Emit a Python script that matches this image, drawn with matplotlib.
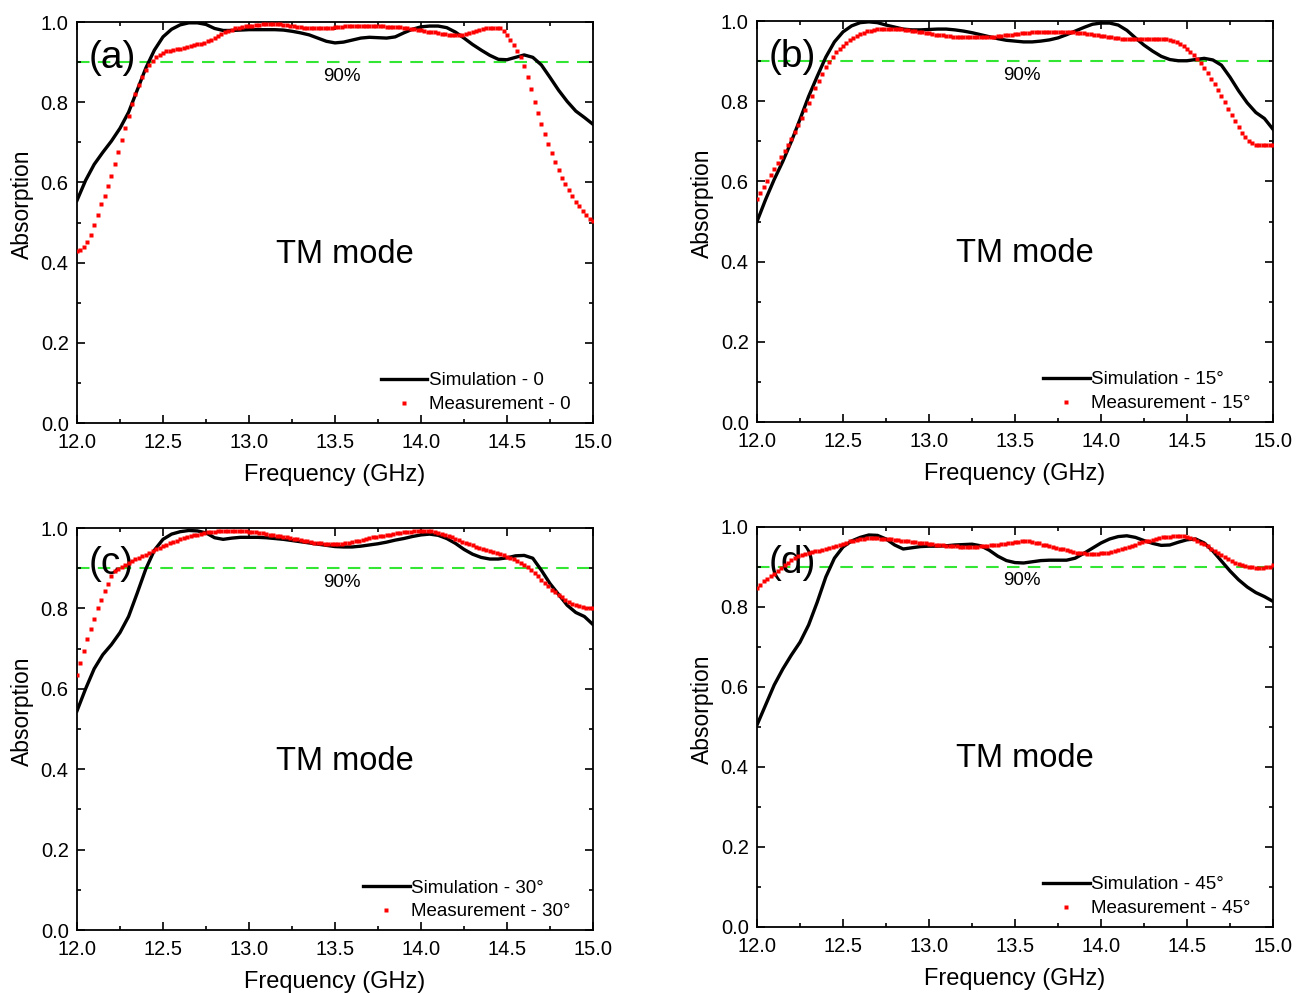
import numpy as np
import matplotlib.pyplot as plt
from matplotlib.ticker import MultipleLocator

plt.rcParams['font.family'] = ['Liberation Sans', 'DejaVu Sans']

# simulated absorption, 12.0-15.0 GHz in 0.05 GHz steps
sim_0 = [0.555, 0.605, 0.645, 0.675, 0.703, 0.735, 0.775, 0.830, 0.885, 0.930,
         0.963, 0.982, 0.993, 0.998, 0.998, 0.994, 0.984, 0.979, 0.979, 0.980,
         0.981, 0.981, 0.981, 0.981, 0.980, 0.977, 0.973, 0.968, 0.960, 0.952,
         0.948, 0.950, 0.955, 0.960, 0.962, 0.961, 0.960, 0.963, 0.973, 0.982,
         0.988, 0.990, 0.990, 0.986, 0.975, 0.960, 0.944, 0.930, 0.917, 0.907,
         0.906, 0.912, 0.918, 0.912, 0.893, 0.862, 0.830, 0.802, 0.778, 0.762,
         0.745]
sim_15 = [0.500, 0.555, 0.605, 0.650, 0.700, 0.755, 0.812, 0.862, 0.910, 0.948,
          0.973, 0.988, 0.996, 0.998, 0.996, 0.990, 0.985, 0.980, 0.978, 0.978,
          0.979, 0.980, 0.980, 0.978, 0.975, 0.971, 0.966, 0.961, 0.956, 0.952,
          0.950, 0.948, 0.948, 0.950, 0.953, 0.958, 0.966, 0.975, 0.984, 0.992,
          0.995, 0.995, 0.990, 0.977, 0.958, 0.940, 0.925, 0.912, 0.904, 0.901,
          0.901, 0.904, 0.907, 0.903, 0.890, 0.860, 0.826, 0.796, 0.772, 0.757,
          0.730]
sim_30 = [0.545, 0.600, 0.650, 0.685, 0.710, 0.740, 0.780, 0.838, 0.898, 0.945,
          0.972, 0.985, 0.991, 0.994, 0.993, 0.988, 0.976, 0.972, 0.975, 0.977,
          0.977, 0.977, 0.976, 0.974, 0.972, 0.969, 0.966, 0.963, 0.960, 0.957,
          0.954, 0.953, 0.953, 0.955, 0.958, 0.961, 0.965, 0.970, 0.974, 0.979,
          0.983, 0.985, 0.982, 0.974, 0.962, 0.947, 0.935, 0.927, 0.923, 0.923,
          0.926, 0.931, 0.932, 0.925, 0.895, 0.862, 0.835, 0.808, 0.790, 0.780,
          0.760]
sim_45 = [0.505, 0.555, 0.605, 0.645, 0.680, 0.712, 0.755, 0.812, 0.875, 0.922,
          0.950, 0.965, 0.974, 0.980, 0.979, 0.970, 0.955, 0.945, 0.948, 0.951,
          0.952, 0.952, 0.953, 0.955, 0.956, 0.957, 0.953, 0.942, 0.927, 0.916,
          0.911, 0.910, 0.913, 0.916, 0.917, 0.917, 0.917, 0.922, 0.934, 0.947,
          0.960, 0.970, 0.976, 0.978, 0.974, 0.966, 0.959, 0.954, 0.955, 0.962,
          0.968, 0.970, 0.960, 0.940, 0.915, 0.890, 0.868, 0.850, 0.836, 0.826,
          0.814]

# measured absorption, 12.0-15.0 GHz in 0.02 GHz steps
meas_0 = [0.430, 0.432, 0.440, 0.452, 0.470, 0.495, 0.520, 0.545, 0.565, 0.590,
          0.615, 0.645, 0.675, 0.705, 0.735, 0.765, 0.795, 0.820, 0.843, 0.864,
          0.880, 0.893, 0.903, 0.912, 0.919, 0.924, 0.927, 0.929, 0.931, 0.933,
          0.934, 0.936, 0.938, 0.940, 0.942, 0.944, 0.946, 0.948, 0.952, 0.956,
          0.961, 0.966, 0.970, 0.974, 0.978, 0.981, 0.984, 0.986, 0.988, 0.989,
          0.990, 0.991, 0.992, 0.993, 0.994, 0.994, 0.995, 0.995, 0.995, 0.994,
          0.993, 0.992, 0.990, 0.989, 0.988, 0.987, 0.986, 0.985, 0.985, 0.985,
          0.985, 0.985, 0.985, 0.986, 0.986, 0.987, 0.988, 0.988, 0.989, 0.990,
          0.990, 0.991, 0.991, 0.991, 0.991, 0.991, 0.990, 0.990, 0.989, 0.989,
          0.988, 0.988, 0.988, 0.988, 0.987, 0.986, 0.985, 0.983, 0.982, 0.980,
          0.979, 0.978, 0.976, 0.975, 0.974, 0.972, 0.971, 0.969, 0.968, 0.967,
          0.967, 0.967, 0.968, 0.970, 0.972, 0.974, 0.977, 0.980, 0.982, 0.984,
          0.985, 0.986, 0.986, 0.984, 0.978, 0.968, 0.955, 0.942, 0.928, 0.912,
          0.890, 0.864, 0.833, 0.800, 0.772, 0.745, 0.720, 0.696, 0.673, 0.650,
          0.630, 0.612, 0.596, 0.581, 0.566, 0.552, 0.540, 0.529, 0.519, 0.510,
          0.503]
meas_15 = [0.557, 0.572, 0.587, 0.602, 0.617, 0.632, 0.646, 0.660, 0.675, 0.691,
           0.707, 0.724, 0.741, 0.759, 0.777, 0.795, 0.813, 0.832, 0.850, 0.868,
           0.885, 0.899, 0.911, 0.922, 0.931, 0.939, 0.946, 0.952, 0.958, 0.963,
           0.967, 0.971, 0.974, 0.976, 0.978, 0.979, 0.980, 0.980, 0.980, 0.980,
           0.980, 0.979, 0.979, 0.978, 0.977, 0.976, 0.975, 0.973, 0.972, 0.970,
           0.969, 0.967, 0.966, 0.965, 0.964, 0.963, 0.962, 0.961, 0.960, 0.960,
           0.960, 0.959, 0.959, 0.959, 0.959, 0.960, 0.960, 0.960, 0.961, 0.961,
           0.962, 0.963, 0.964, 0.965, 0.966, 0.967, 0.968, 0.969, 0.970, 0.971,
           0.972, 0.972, 0.973, 0.973, 0.973, 0.973, 0.973, 0.973, 0.973, 0.973,
           0.973, 0.973, 0.972, 0.971, 0.970, 0.969, 0.968, 0.967, 0.966, 0.965,
           0.963, 0.962, 0.961, 0.960, 0.958, 0.957, 0.956, 0.955, 0.955, 0.954,
           0.954, 0.954, 0.954, 0.955, 0.955, 0.956, 0.956, 0.956, 0.955, 0.954,
           0.952, 0.950, 0.947, 0.943, 0.937, 0.930, 0.923, 0.915, 0.906, 0.896,
           0.884, 0.870, 0.856, 0.842, 0.828, 0.813, 0.797, 0.781, 0.765, 0.750,
           0.736, 0.722, 0.710, 0.701, 0.695, 0.692, 0.690, 0.690, 0.690, 0.690,
           0.690]
meas_30 = [0.635, 0.665, 0.695, 0.725, 0.750, 0.775, 0.800, 0.822, 0.843, 0.862,
           0.880, 0.893, 0.899, 0.904, 0.909, 0.913, 0.918, 0.922, 0.926, 0.930,
           0.934, 0.939, 0.943, 0.947, 0.951, 0.955, 0.959, 0.962, 0.966, 0.969,
           0.972, 0.975, 0.978, 0.980, 0.982, 0.984, 0.986, 0.988, 0.989, 0.990,
           0.991, 0.992, 0.993, 0.993, 0.993, 0.993, 0.993, 0.993, 0.993, 0.992,
           0.991, 0.990, 0.989, 0.988, 0.987, 0.985, 0.984, 0.983, 0.981, 0.980,
           0.978, 0.977, 0.975, 0.973, 0.972, 0.970, 0.969, 0.967, 0.966, 0.964,
           0.963, 0.962, 0.961, 0.961, 0.960, 0.960, 0.961, 0.961, 0.962, 0.963,
           0.965, 0.967, 0.969, 0.971, 0.973, 0.975, 0.977, 0.978, 0.980, 0.981,
           0.983, 0.984, 0.985, 0.987, 0.988, 0.989, 0.990, 0.991, 0.992, 0.992,
           0.993, 0.993, 0.993, 0.992, 0.990, 0.988, 0.986, 0.983, 0.980, 0.977,
           0.974, 0.970, 0.966, 0.963, 0.960, 0.957, 0.954, 0.951, 0.948, 0.946,
           0.943, 0.941, 0.938, 0.935, 0.932, 0.929, 0.926, 0.922, 0.919, 0.914,
           0.909, 0.903, 0.896, 0.888, 0.880, 0.871, 0.863, 0.855, 0.847, 0.840,
           0.834, 0.828, 0.822, 0.817, 0.812, 0.808, 0.805, 0.803, 0.801, 0.800,
           0.800]
meas_45 = [0.847, 0.856, 0.864, 0.871, 0.877, 0.883, 0.890, 0.897, 0.904, 0.911,
           0.917, 0.923, 0.927, 0.930, 0.933, 0.935, 0.937, 0.939, 0.941, 0.943,
           0.945, 0.947, 0.949, 0.952, 0.955, 0.958, 0.961, 0.964, 0.966, 0.968,
           0.970, 0.971, 0.972, 0.972, 0.972, 0.972, 0.971, 0.971, 0.970, 0.969,
           0.968, 0.967, 0.966, 0.965, 0.964, 0.963, 0.962, 0.961, 0.960, 0.959,
           0.958, 0.957, 0.956, 0.955, 0.954, 0.953, 0.953, 0.952, 0.952, 0.951,
           0.951, 0.951, 0.951, 0.951, 0.951, 0.952, 0.952, 0.953, 0.954, 0.955,
           0.956, 0.957, 0.958, 0.960, 0.961, 0.962, 0.963, 0.964, 0.964, 0.964,
           0.963, 0.961, 0.959, 0.956, 0.954, 0.952, 0.950, 0.948, 0.946, 0.944,
           0.942, 0.940, 0.938, 0.936, 0.935, 0.934, 0.933, 0.933, 0.933, 0.933,
           0.934, 0.935, 0.936, 0.938, 0.940, 0.942, 0.945, 0.947, 0.950, 0.953,
           0.956, 0.959, 0.962, 0.964, 0.966, 0.968, 0.970, 0.972, 0.974, 0.975,
           0.976, 0.977, 0.978, 0.978, 0.977, 0.975, 0.972, 0.969, 0.965, 0.961,
           0.957, 0.952, 0.946, 0.940, 0.934, 0.929, 0.924, 0.919, 0.915, 0.911,
           0.907, 0.904, 0.902, 0.900, 0.899, 0.898, 0.898, 0.898, 0.899, 0.901,
           0.904]

panel_tags = ['(a)', '(b)', '(c)', '(d)']
angle_labels = ['0', '15°', '30°', '45°']
sims = [sim_0, sim_15, sim_30, sim_45]
meas = [meas_0, meas_15, meas_30, meas_45]

# axes boxes in figure fractions (left, bottom, width, height)
boxes = [[0.0589, 0.5740, 0.3948, 0.4038],
         [0.5792, 0.5750, 0.3948, 0.4038],
         [0.0589, 0.0634, 0.3948, 0.4048],
         [0.5792, 0.0665, 0.3948, 0.4028]]


def draw_panel(ax, sim, mea, tag, angle):
    f_sim = np.linspace(12, 15, len(sim))
    f_mea = np.linspace(12, 15, len(mea))
    ax.axhline(0.9, color='#33e633', lw=1.5, ls=(0, (6, 4)), zorder=1)
    ax.plot(f_sim, sim, color='black', lw=2.4, label='Simulation - ' + angle, zorder=3)
    ax.plot(f_mea, mea, ls='none', marker='s', ms=2.9, color='#ff0000', mec='none',
            label='Measurement - ' + angle, zorder=4)

    ax.text(12.07, 0.91, tag, fontsize=28, va='center', ha='left')
    ax.text(13.54, 0.865, '90%', fontsize=13.5, va='center', ha='center')
    ax.text(13.56, 0.42, 'TM mode', fontsize=23.5, va='center', ha='center')

    ax.set_xlim(12, 15)
    ax.set_ylim(0, 1)
    ax.xaxis.set_major_locator(MultipleLocator(0.5))
    ax.xaxis.set_minor_locator(MultipleLocator(0.25))
    ax.yaxis.set_major_locator(MultipleLocator(0.2))
    ax.yaxis.set_minor_locator(MultipleLocator(0.1))
    ax.xaxis.set_major_formatter('{x:.1f}')
    ax.yaxis.set_major_formatter('{x:.1f}')
    ax.tick_params(which='both', direction='in', top=True, right=True, width=1.2)
    ax.tick_params(which='major', length=6, labelsize=14.5)
    ax.tick_params(axis='x', which='major', pad=7)
    ax.tick_params(axis='y', which='major', pad=6)
    ax.tick_params(which='minor', length=3)
    for s in ax.spines.values():
        s.set_linewidth(1.3)

    ax.set_xlabel('Frequency (GHz)', fontsize=17, labelpad=9)
    ax.set_ylabel('Absorption', fontsize=16.5)
    ax.yaxis.set_label_coords(-0.083, 0.545)

    ax.legend(loc='lower right', bbox_to_anchor=(0.99, -0.018), frameon=False,
              fontsize=13.5, handlelength=2.5, handletextpad=0.1, numpoints=1,
              labelspacing=0.36, markerscale=1.2)


fig = plt.figure(figsize=(13.07, 9.93), dpi=100)
for i in range(4):
    ax = fig.add_axes(boxes[i])
    draw_panel(ax, sims[i], meas[i], panel_tags[i], angle_labels[i])

fig.savefig('out.png', dpi=100)
